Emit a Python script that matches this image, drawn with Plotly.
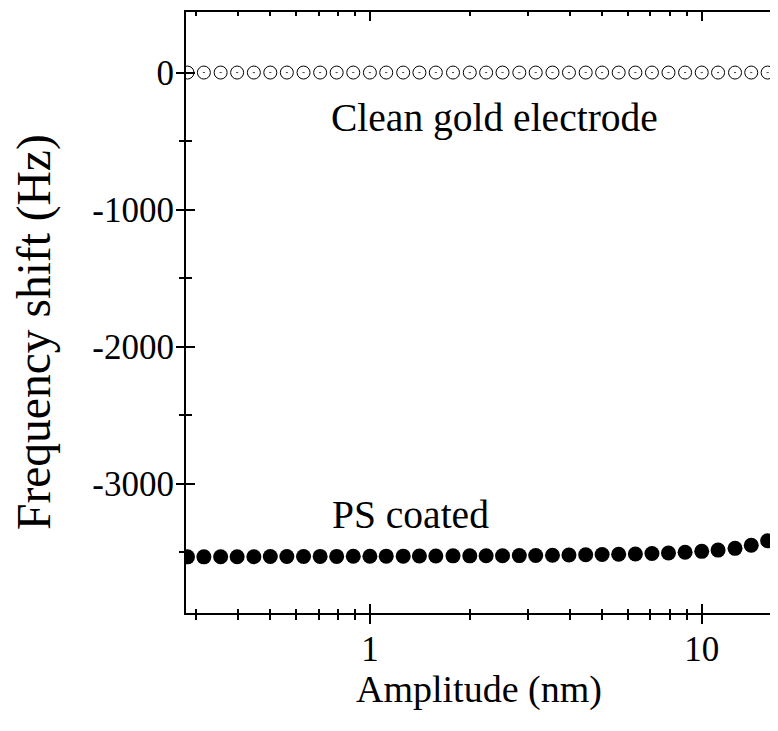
import plotly.graph_objects as go

# ---- data ----
amplitude_nm = [0.282, 0.316, 0.355, 0.398, 0.447, 0.501, 0.562, 0.631, 0.708, 0.794,
                0.891, 1.00, 1.12, 1.26, 1.41, 1.58, 1.78, 2.00, 2.24, 2.51,
                2.82, 3.16, 3.55, 3.98, 4.47, 5.01, 5.62, 6.31, 7.08, 7.94,
                8.91, 10.0, 11.2, 12.6, 14.1, 15.8]
clean_gold_hz = [0, 0, 0, 0, 0, 0, 0, 0, 0, 0,
                 0, 0, 0, 0, 0, 0, 0, 0, 0, 0,
                 0, 0, 0, 0, 0, 0, 0, 0, 0, 0,
                 0, 0, 0, 0, 0, 0]
ps_coated_hz = [-3535, -3535, -3534, -3534, -3534, -3533, -3533, -3533, -3532, -3532,
                -3531, -3531, -3530, -3530, -3529, -3529, -3528, -3528, -3527, -3527,
                -3526, -3525, -3524, -3522, -3520, -3518, -3516, -3514, -3511, -3507,
                -3502, -3495, -3486, -3473, -3451, -3418]

x_major_vals = [1, 10]
x_major_text = ["1", "10"]
x_minor_vals = [0.3, 0.4, 0.5, 0.6, 0.7, 0.8, 0.9, 2, 3, 4, 5, 6, 7, 8, 9]
y_major_vals = [0, -1000, -2000, -3000]
y_major_text = ["0", "-1000", "-2000", "-3000"]
y_minor_vals = [-500, -1500, -2500, -3500]

series_labels = ["Clean gold electrode", "PS coated"]
x_title = "Amplitude (nm)"
y_title = "Frequency shift (Hz)"

FONT = "Liberation Serif, Times New Roman, serif"
X_RANGE = [-0.5542, 1.2389]
Y_RANGE = [-3945, 442]

fig = go.Figure()
fig.add_trace(go.Scatter(
    x=amplitude_nm, y=clean_gold_hz, mode="markers", name=series_labels[0],
    marker=dict(symbol="circle-dot", size=13, color="white",
                line=dict(color="black", width=1)),
    showlegend=False))
fig.add_trace(go.Scatter(
    x=amplitude_nm, y=ps_coated_hz, mode="markers", name=series_labels[1],
    marker=dict(symbol="circle", size=15, color="black",
                line=dict(width=0)),
    showlegend=False))
# empty helper traces so the overlaid tick-only axes (inner ticks, top and right frame) are drawn
fig.add_trace(go.Scatter(x=[], y=[], xaxis="x2", yaxis="y2", showlegend=False, hoverinfo="skip"))
fig.add_trace(go.Scatter(x=[], y=[], xaxis="x3", yaxis="y3", showlegend=False, hoverinfo="skip"))

common_x = dict(type="log", range=X_RANGE, tickmode="array", tickvals=x_major_vals,
                showgrid=False, zeroline=False, tickcolor="black", tickwidth=2,
                automargin=False)
common_y = dict(range=Y_RANGE, tickmode="array", tickvals=y_major_vals,
                showgrid=False, zeroline=False, tickcolor="black", tickwidth=2,
                automargin=False)

# the page body adds an 8px offset, so margins are shifted to compensate
fig.update_layout(
    width=778, height=731,
    margin=dict(l=178, r=5, t=4, b=126, autoexpand=False),
    paper_bgcolor="white", plot_bgcolor="white",
    font=dict(family=FONT, color="black", size=35),
    showlegend=False,
    xaxis=dict(**common_x, ticktext=x_major_text, ticks="outside", ticklen=9,
               showline=True, linecolor="black", linewidth=2, mirror=False,
               tickfont=dict(size=35, family=FONT), ticklabelstandoff=-5,
               minor=dict(tickmode="array", tickvals=x_minor_vals, ticks="outside",
                          ticklen=5, tickcolor="black", tickwidth=1.5, showgrid=False)),
    xaxis2=dict(**common_x, overlaying="x", anchor="y2", side="bottom",
                ticks="inside", ticklen=9, showticklabels=False, showline=False,
                minor=dict(tickmode="array", tickvals=x_minor_vals, ticks="inside",
                           ticklen=4, tickcolor="black", tickwidth=1.5, showgrid=False)),
    xaxis3=dict(**common_x, overlaying="x", anchor="y3", side="top",
                ticks="inside", ticklen=9, showticklabels=False,
                showline=True, linecolor="black", linewidth=2,
                minor=dict(tickmode="array", tickvals=x_minor_vals, ticks="inside",
                           ticklen=4, tickcolor="black", tickwidth=1.5, showgrid=False)),
    yaxis=dict(**common_y, ticktext=y_major_text, ticks="outside", ticklen=8,
               showline=True, linecolor="black", linewidth=2, mirror=False,
               tickfont=dict(size=35, family=FONT), ticklabelstandoff=-5,
               minor=dict(tickmode="array", tickvals=y_minor_vals, ticks="outside",
                          ticklen=5, tickcolor="black", tickwidth=1.5, showgrid=False)),
    yaxis2=dict(**common_y, overlaying="y", anchor="x2", side="left",
                ticks="inside", ticklen=9, showticklabels=False, showline=False,
                minor=dict(tickmode="array", tickvals=y_minor_vals, ticks="inside",
                           ticklen=6, tickcolor="black", tickwidth=1.5, showgrid=False)),
    yaxis3=dict(**common_y, overlaying="y", anchor="x3", side="right",
                ticks="inside", ticklen=5, showticklabels=False, showline=False,
                minor=dict(tickmode="array", tickvals=y_minor_vals, ticks="inside",
                           ticklen=5, tickcolor="black", tickwidth=1.5, showgrid=False)),
    annotations=[
        dict(text=series_labels[0], xref="paper", yref="paper", x=0.518, y=0.823,
             xanchor="center", yanchor="middle", showarrow=False,
             font=dict(size=39.5, family=FONT, color="black")),
        dict(text=series_labels[1], xref="paper", yref="paper", x=0.378, y=0.163,
             xanchor="center", yanchor="middle", showarrow=False,
             font=dict(size=39.5, family=FONT, color="black")),
        # axis titles
        dict(text=x_title, xref="paper", yref="paper", x=0.4924, y=-0.1265,
             xanchor="center", yanchor="middle", showarrow=False,
             font=dict(size=38, family=FONT, color="black")),
        dict(text=y_title, xref="paper", yref="paper", x=-0.2538, y=0.4676,
             xanchor="center", yanchor="middle", showarrow=False, textangle=-90,
             font=dict(size=47.5, family=FONT, color="black")),
    ],
)

fig.write_html("out.html")
